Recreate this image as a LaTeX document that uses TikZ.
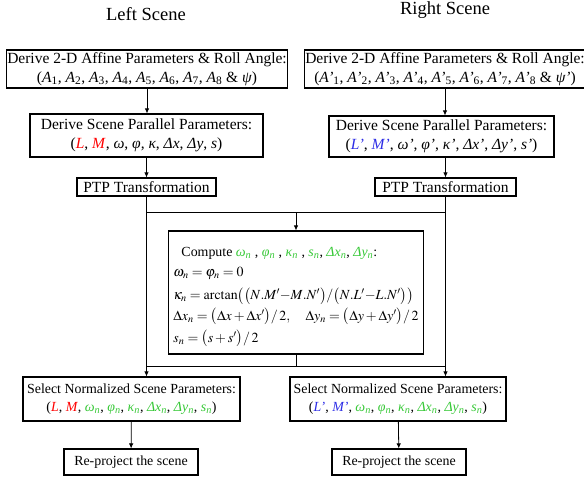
\documentclass[tikz,border=0pt]{standalone}
\usepackage{mathptmx}
\usepackage{fontspec}
\setmainfont{Liberation Serif}
\usepackage{tikz}
\usetikzlibrary{arrows, arrows.meta, shapes, positioning, calc}

\definecolor{lred}{RGB}{255,0,0}
\definecolor{lblue}{RGB}{45,45,230}
\definecolor{lgreen}{RGB}{55,200,55}

\newcommand{\Ai}[1]{\textit{A}\textsubscript{#1}}
\newcommand{\Api}[1]{\textit{A’}\textsubscript{#1}}
\newcommand{\gn}[1]{\textcolor{lgreen}{\textit{#1}\textsubscript{\textit{n}}}}
\newcommand{\tighteq}{\thickmuskip=3mu\relax\medmuskip=2mu\relax}

\begin{document}
\begin{tikzpicture}[x=1pt, y=-1pt,
    >={Latex[length=5pt, width=4.5pt]},
    scenebox/.style={draw, line width=1.1pt, inner sep=1pt, align=center,
      font=\fontsize{15.5}{18.5}\selectfont},
    smallbox/.style={scenebox, font=\fontsize{13.9}{17.5}\selectfont},
    title/.style={font=\fontsize{18.5}{22}\selectfont},
    flow/.style={line width=0.8pt}]
    \useasboundingbox (0,0) rectangle (584,479);

    \node[title] (lefttitle) at (146,14) {Left Scene};
    \node[title] (righttitle) at (445,10) {Right Scene};

    % affine parameters
    \node[scenebox, minimum width=280pt, minimum height=38pt] (affineL) at (147,69)
      {Derive 2-D Affine Parameters \& Roll Angle:\\(\Ai{1}, \Ai{2}, \Ai{3}, \Ai{4}, \Ai{5}, \Ai{6}, \Ai{7}, \Ai{8} \& \textit{ψ})};
    \node[scenebox, minimum width=280pt, minimum height=38pt] (affineR) at (445,69)
      {Derive 2-D Affine Parameters \& Roll Angle:\\(\Api{1}, \Api{2}, \Api{3}, \Api{4}, \Api{5}, \Api{6}, \Api{7}, \Api{8} \& \textit{ψ’})};

    % scene parallel parameters
    \node[scenebox, minimum width=233pt, minimum height=43pt] (parL) at (146.5,135.5)
      {Derive Scene Parallel Parameters:\\(\textcolor{lred}{\textit{L}}, \textcolor{lred}{\textit{M}}, \textit{ω}, \textit{φ}, \textit{κ}, \textit{Δx}, \textit{Δy}, \textit{s})};
    \node[scenebox, minimum width=225pt, minimum height=41pt] (parR) at (441.5,136.5)
      {Derive Scene Parallel Parameters:\\(\textcolor{lblue}{\textit{L’}}, \textcolor{lblue}{\textit{M’}}, \textit{ω’}, \textit{φ’}, \textit{κ’}, \textit{Δx’}, \textit{Δy’}, \textit{s’})};

    \node[scenebox, minimum width=139pt, minimum height=18pt] (ptpL) at (146.5,187) {PTP Transformation};
    \node[scenebox, minimum width=141pt, minimum height=18pt] (ptpR) at (445.5,187) {PTP Transformation};

    % normalized parameters
    \node[smallbox, minimum width=242pt, minimum height=123pt, inner sep=5pt, align=left,
      font=\fontsize{13.9}{20.5}\selectfont] (compute) at (296,292.5)
      {\tighteq\rule{0pt}{18pt}\hspace{8pt}Compute \gn{ω} , \gn{φ} , \gn{κ} , \gn{s}, \gn{Δx}, \gn{Δy}:\\
       $\omega_n=\varphi_n=0$\\[2.5pt]
       $\kappa_n=\mathrm{arctan}\bigl(\bigl(N.M'{-}M.N'\bigr)/\bigl(N.L'{-}L.N'\bigr)\bigr)$\\
       $\Delta x_n=\bigl(\Delta x+\Delta x'\bigr)/\,2,\quad \Delta y_n=\bigl(\Delta y+\Delta y'\bigr)/\,2$\\[1.5pt]
       $s_n=\bigl(s+s'\bigr)/\,2$};

    \node[smallbox, minimum width=217pt, minimum height=44pt] (selL) at (131.5,399)
      {Select Normalized Scene Parameters:\\(\textcolor{lred}{\textit{L}}, \textcolor{lred}{\textit{M}}, \gn{ω}, \gn{φ}, \gn{κ}, \gn{Δx}, \gn{Δy}, \gn{s})};
    \node[smallbox, minimum width=216pt, minimum height=44pt] (selR) at (398,399)
      {Select Normalized Scene Parameters:\\(\textcolor{lblue}{\textit{L’}}, \textcolor{lblue}{\textit{M’}}, \gn{ω}, \gn{φ}, \gn{κ}, \gn{Δx}, \gn{Δy}, \gn{s})};

    \node[smallbox, minimum width=134pt, minimum height=26pt] (reprojL) at (131,462) {Re-project the scene};
    \node[smallbox, minimum width=134pt, minimum height=26pt] (reprojR) at (399,462) {Re-project the scene};

    \coordinate (jointop) at (296,212);
    \coordinate (joinbot) at (296,366);

    \draw[flow, ->] (affineL.south) -- (affineL.south |- parL.north);
    \draw[flow, ->] (affineR.south) -- (affineR.south |- parR.north);
    \draw[flow, ->] (parL.south) -- (parL.south |- ptpL.north);
    \draw[flow, ->] (ptpR.north |- parR.south) -- (ptpR.north);
    \draw[flow, ->] (ptpL.south) -- (ptpL.south |- selL.north);
    \draw[flow, ->] (ptpR.south) -- (ptpR.south |- selR.north);
    \draw[flow] (ptpL.south |- jointop) -- (ptpR.south |- jointop);
    \draw[flow, ->] (jointop) -- (compute.north);
    \draw[flow] (compute.south) -- (joinbot);
    \draw[flow] (ptpL.south |- joinbot) -- (ptpR.south |- joinbot);
    \draw[flow, ->] (selL) -- (reprojL);
    \draw[flow, ->] (selR) -- (reprojR);
\end{tikzpicture}
\end{document}
